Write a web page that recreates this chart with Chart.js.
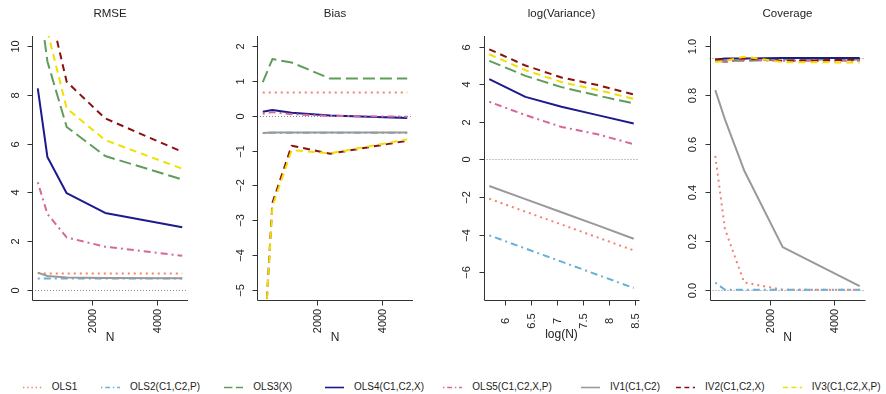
<!DOCTYPE html>
<html>
<head>
<meta charset="utf-8">
<script src="https://cdn.jsdelivr.net/npm/chart.js@4.4.1/dist/chart.umd.min.js"></script>
<style>
  html, body { margin:0; padding:0; background:#fff; width:886px; height:394px; overflow:hidden; }
  canvas.panel { position:absolute; left:0; top:0; }
  #legend { position:absolute; left:0; top:378px; width:886px; height:16px; font-family:"Liberation Sans", Arial, sans-serif; font-size:10px; color:#222; }
  .lg-text { position:absolute; top:3px; line-height:12px; white-space:nowrap; }
  .lg-line { position:absolute; top:3px; }
</style>
</head>
<body>
<canvas id="c1" class="panel" width="886" height="360"></canvas>
<canvas id="c2" class="panel" width="886" height="360"></canvas>
<canvas id="c3" class="panel" width="886" height="360"></canvas>
<canvas id="c4" class="panel" width="886" height="360"></canvas>
<div id="legend"></div>
<script>
// ---------------- DATA ----------------
const estimators = ["OLS1", "OLS2(C1,C2,P)", "OLS3(X)", "OLS4(C1,C2,X)", "OLS5(C1,C2,X,P)", "IV1(C1,C2)", "IV2(C1,C2,X)", "IV3(C1,C2,X,P)"];
const sampleN = [300, 600, 1200, 2400, 4800];
const logSampleN = [5.704, 6.397, 7.090, 7.783, 8.476];

// RMSE
const rmseOLS1 = [0.70, 0.68, 0.68, 0.68, 0.68];
const rmseOLS2 = [0.48, 0.48, 0.48, 0.48, 0.48];
const rmseOLS3 = [12.3, 9.36, 6.68, 5.49, 4.53];
const rmseOLS4 = [8.26, 5.45, 3.97, 3.16, 2.58];
const rmseOLS5 = [4.42, 3.12, 2.16, 1.78, 1.41];
const rmseIV1  = [0.72, 0.58, 0.52, 0.50, 0.49];
const rmseIV2  = [18.0, 11.9, 8.53, 7.03, 5.66];
const rmseIV3  = [16.0, 10.6, 7.44, 6.14, 4.97];

// Bias
const biasOLS1 = [0.66, 0.66, 0.66, 0.66, 0.66];
const biasOLS2 = [-0.50, -0.49, -0.49, -0.49, -0.49];
const biasOLS3 = [0.96, 1.62, 1.52, 1.06, 1.06];
const biasOLS4 = [0.11, 0.16, 0.08, 0.00, -0.07];
const biasOLS5 = [0.05, 0.10, 0.04, -0.01, -0.03];
const biasIV1  = [-0.50, -0.48, -0.48, -0.48, -0.48];
const biasIV2  = [-7.3, -2.5, -0.86, -1.09, -0.72];
const biasIV3  = [-7.3, -2.6, -0.99, -1.08, -0.68];

// log(Variance)
const lvarOLS1 = [-2.09, -2.78, -3.46, -4.15, -4.84];
const lvarOLS2 = [-4.04, -4.74, -5.44, -6.14, -6.84];
const lvarOLS3 = [5.25, 4.45, 3.85, 3.40, 2.98];
const lvarOLS4 = [4.27, 3.33, 2.80, 2.36, 1.91];
const lvarOLS5 = [3.07, 2.36, 1.73, 1.34, 0.81];
const lvarIV1  = [-1.41, -2.11, -2.81, -3.51, -4.22];
const lvarIV2  = [5.86, 5.00, 4.36, 3.96, 3.46];
const lvarIV3  = [5.60, 4.75, 4.12, 3.70, 3.22];

// Coverage
const covOLS1 = [0.55, 0.25, 0.03, 0.00, 0.00];
const covOLS2 = [0.03, 0.00, 0.00, 0.00, 0.00];
const covOLS3 = [0.945, 0.940, 0.940, 0.945, 0.945];
const covOLS4 = [0.945, 0.950, 0.950, 0.952, 0.952];
const covOLS5 = [0.940, 0.935, 0.945, 0.940, 0.940];
const covIV1  = [0.82, 0.70, 0.49, 0.175, 0.015];
const covIV2  = [0.945, 0.945, 0.950, 0.940, 0.945];
const covIV3  = [0.935, 0.940, 0.957, 0.935, 0.933];

// Tick labels
const nTicks = [2000, 4000];
const nTickLabels = ["2000", "4000"];
const logNTicks = [6, 6.5, 7, 7.5, 8, 8.5];
const logNTickLabels = ["6", "6.5", "7", "7.5", "8", "8.5"];
const rmseTicks = [0, 2, 4, 6, 8, 10];
const biasTicks = [-5, -4, -3, -2, -1, 0, 1, 2];
const lvarTicks = [-6, -4, -2, 0, 2, 4, 6];
const covTicks = [0, 0.2, 0.4, 0.6, 0.8, 1.0];
const covTickLabels = ["0.0", "0.2", "0.4", "0.6", "0.8", "1.0"];

// ---------------- STYLES ----------------
const colors = ["#F4826F", "#6BAED6", "#5E9E5A", "#1B1B8F", "#D4679B", "#999999", "#8B1010", "#EEE000"];
const dashes = [[2, 4], [2, 4, 7, 4], [12, 5], [], [2, 4, 7, 4], [], [7, 5], [7, 5]];
const FONT = '"Liberation Sans", Arial, Helvetica, sans-serif';

function makeDatasets(xs, seriesList) {
  return seriesList.map((vals, i) => ({
    label: estimators[i],
    data: xs.map((x, j) => ({ x: x, y: vals[j] })),
    borderColor: colors[i],
    backgroundColor: colors[i],
    borderWidth: 2,
    borderDash: dashes[i],
    borderCapStyle: 'butt',
    borderJoinStyle: 'round',
    pointRadius: 0,
    fill: false,
    tension: 0,
    order: 7 - i
  }));
}

const panelAxes = {
  id: 'panelAxes',
  beforeDatasetsDraw(chart, args, o) {
    const ctx = chart.ctx, a = chart.chartArea, ys = chart.scales.y;
    ctx.save();
    ctx.strokeStyle = '#8a8a8a';
    ctx.lineWidth = 1;
    ctx.setLineDash([1, 2]);
    (o.refs || []).forEach(v => {
      const py = Math.round(ys.getPixelForValue(v)) + 0.5;
      ctx.beginPath(); ctx.moveTo(a.left, py); ctx.lineTo(a.right, py); ctx.stroke();
    });
    ctx.restore();
  },
  afterDraw(chart, args, o) {
    const ctx = chart.ctx, a = chart.chartArea, xs = chart.scales.x, ys = chart.scales.y;
    ctx.save();
    ctx.strokeStyle = '#333';
    ctx.lineWidth = 1;
    ctx.setLineDash([]);
    const lx = Math.round(a.left) + 0.5, by = Math.round(a.bottom) + 0.5;
    ctx.beginPath();
    ctx.moveTo(lx, a.top); ctx.lineTo(lx, by); ctx.lineTo(a.right, by);
    ctx.stroke();
    ctx.fillStyle = '#222';
    ctx.font = '11px ' + FONT;
    // y ticks
    o.yticks.forEach((v, i) => {
      const py = Math.round(ys.getPixelForValue(v)) + 0.5;
      ctx.beginPath(); ctx.moveTo(lx, py); ctx.lineTo(lx - 5, py); ctx.stroke();
      ctx.save();
      ctx.translate(a.left - 16.5, py);
      ctx.rotate(-Math.PI / 2);
      ctx.textAlign = 'center'; ctx.textBaseline = 'middle';
      ctx.fillText(o.ylabels[i], 0, 0);
      ctx.restore();
    });
    // x ticks
    o.xticks.forEach((v, i) => {
      const px = Math.round(xs.getPixelForValue(v)) + 0.5;
      ctx.beginPath(); ctx.moveTo(px, by); ctx.lineTo(px, by + 5); ctx.stroke();
      ctx.save();
      ctx.translate(px, a.bottom + 21);
      ctx.rotate(-Math.PI / 2);
      ctx.textAlign = 'center'; ctx.textBaseline = 'middle';
      ctx.fillText(o.xlabels[i], 0, 0);
      ctx.restore();
    });
    // titles
    const cx = (a.left + a.right) / 2;
    ctx.textAlign = 'center'; ctx.textBaseline = 'middle';
    ctx.font = '11.5px ' + FONT;
    ctx.fillText(o.title, cx, 14);
    ctx.font = '12px ' + FONT;
    ctx.fillText(o.xtitle, cx, o.xtitleY);
    ctx.restore();
  }
};

function makePanel(id, left, xs, series, xmin, xmax, ymin, ymax, axes) {
  const W = 886, H = 360, width = 156, top = 36, bottom = 300;
  return new Chart(document.getElementById(id), {
    type: 'line',
    data: { datasets: makeDatasets(xs, series) },
    options: {
      responsive: false,
      animation: false,
      devicePixelRatio: 1,
      events: [],
      layout: { padding: { left: left, right: W - left - width, top: top, bottom: H - bottom } },
      scales: {
        x: { type: 'linear', min: xmin, max: xmax, display: false },
        y: { type: 'linear', min: ymin, max: ymax, display: false }
      },
      plugins: { legend: { display: false }, tooltip: { enabled: false }, panelAxes: axes }
    },
    plugins: [panelAxes]
  });
}

makePanel('c1', 32, sampleN,
  [rmseOLS1, rmseOLS2, rmseOLS3, rmseOLS4, rmseOLS5, rmseIV1, rmseIV2, rmseIV3],
  120, 4980, -0.4, 10.4,
  { title: 'RMSE', xtitle: 'N', xtitleY: 338, refs: [0],
    yticks: rmseTicks, ylabels: rmseTicks.map(String), xticks: nTicks, xlabels: nTickLabels });

makePanel('c2', 257, sampleN,
  [biasOLS1, biasOLS2, biasOLS3, biasOLS4, biasOLS5, biasIV1, biasIV2, biasIV3],
  120, 4980, -5.28, 2.28,
  { title: 'Bias', xtitle: 'N', xtitleY: 338, refs: [0],
    yticks: biasTicks, ylabels: biasTicks.map(v => v < 0 ? '\u2212' + Math.abs(v) : String(v)), xticks: nTicks, xlabels: nTickLabels });

makePanel('c3', 483.5, logSampleN,
  [lvarOLS1, lvarOLS2, lvarOLS3, lvarOLS4, lvarOLS5, lvarIV1, lvarIV2, lvarIV3],
  5.593, 8.587, -7.48, 6.57,
  { title: 'log(Variance)', xtitle: 'log(N)', xtitleY: 335, refs: [0],
    yticks: lvarTicks, ylabels: lvarTicks.map(v => v < 0 ? '\u2212' + Math.abs(v) : String(v)), xticks: logNTicks, xlabels: logNTickLabels });

makePanel('c4', 709.5, sampleN,
  [covOLS1, covOLS2, covOLS3, covOLS4, covOLS5, covIV1, covIV2, covIV3],
  120, 4980, -0.042, 1.042,
  { title: 'Coverage', xtitle: 'N', xtitleY: 338, refs: [0, 0.95],
    yticks: covTicks, ylabels: covTickLabels, xticks: nTicks, xlabels: nTickLabels });

// ---------------- LEGEND ----------------
const legendTextX = [51.7, 130, 253.3, 354, 472.3, 610, 705, 811.7];
const legend = document.getElementById('legend');
estimators.forEach((name, i) => {
  const tx = legendTextX[i];
  const svgNS = 'http://www.w3.org/2000/svg';
  const svg = document.createElementNS(svgNS, 'svg');
  svg.setAttribute('width', '22'); svg.setAttribute('height', '12');
  svg.setAttribute('class', 'lg-line');
  svg.style.left = (tx - 30) + 'px';
  const ln = document.createElementNS(svgNS, 'line');
  ln.setAttribute('x1', '1'); ln.setAttribute('x2', '20');
  ln.setAttribute('y1', '6.5'); ln.setAttribute('y2', '6.5');
  ln.setAttribute('stroke', colors[i]);
  ln.setAttribute('stroke-width', '1.6');
  if (dashes[i].length) ln.setAttribute('stroke-dasharray', dashes[i].map(d => d * 0.7).join(' '));
  svg.appendChild(ln);
  legend.appendChild(svg);
  const sp = document.createElement('span');
  sp.className = 'lg-text';
  sp.style.left = tx + 'px';
  sp.textContent = name;
  legend.appendChild(sp);
});
</script>
</body>
</html>
